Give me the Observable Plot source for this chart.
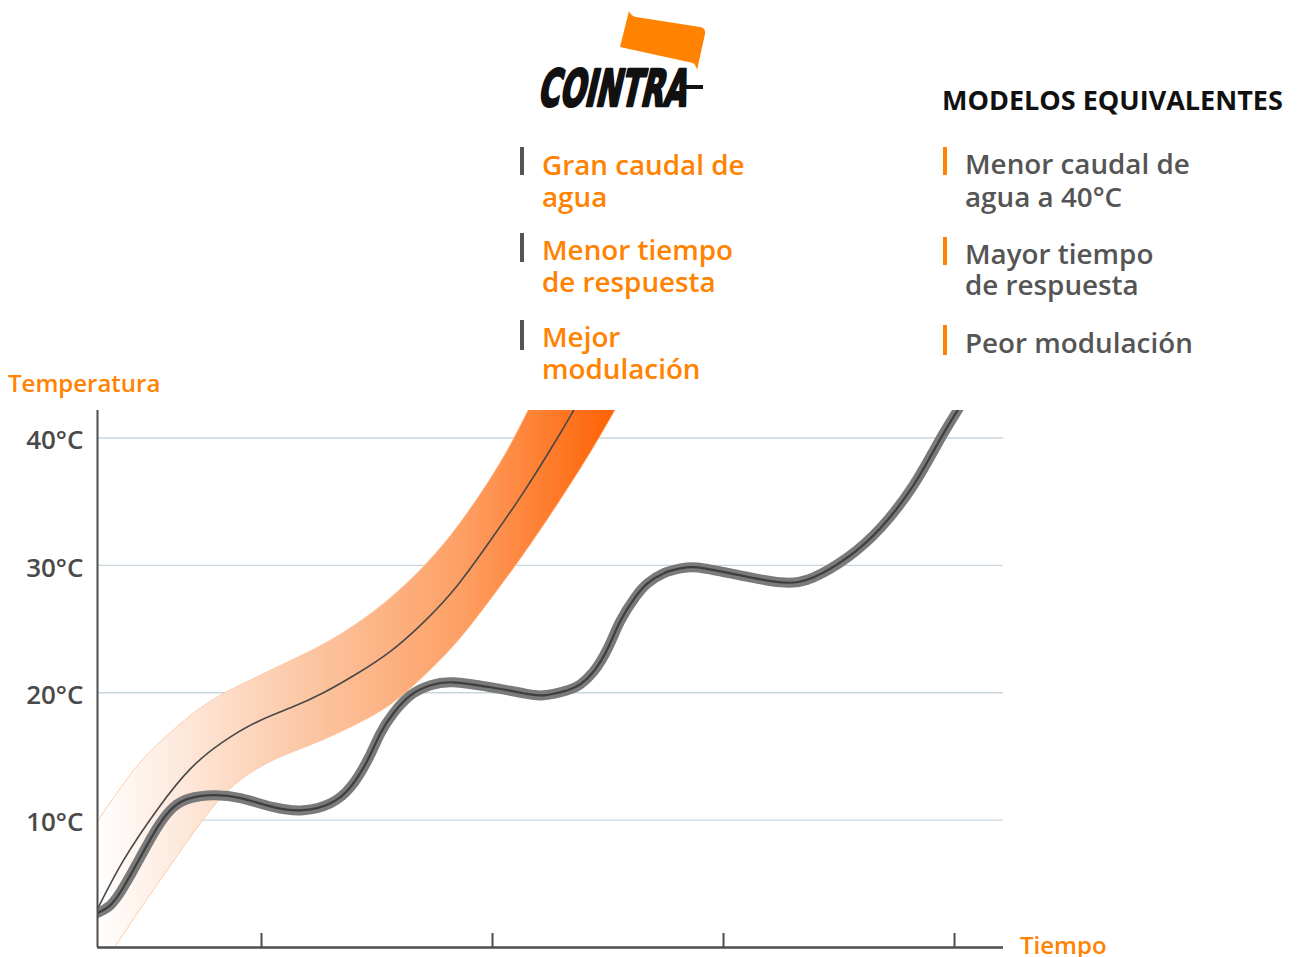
<!DOCTYPE html>
<html>
<head>
<meta charset="utf-8">
<script src="https://cdn.jsdelivr.net/npm/d3@7"></script>
<script src="https://cdn.jsdelivr.net/npm/@observablehq/plot@0.6"></script>
<style>
  html, body { margin: 0; padding: 0; background: #fff; overflow: hidden; }
  #wrap { position: relative; width: 1298px; height: 957px; font-family: "Open Sans", sans-serif; }
  #chart { position: absolute; left: 0; top: 0; }
  .abs { position: absolute; white-space: nowrap; }
  .item { font-size: 27.8px; font-weight: 600; line-height: 32px; height: 32px; }
  .bar { position: absolute; width: 4px; }
  .lbl { font-size: 24px; font-weight: 600; line-height: 24px; color: #ff8200; }
</style>
</head>
<body>
<div id="wrap">
  <div id="chart"></div>

  <svg class="abs" style="left:500px;top:0" width="230" height="125" viewBox="0 0 230 125">
    <path d="M129,11 L120,47 L193,63 Q196,65 197,70 L205,34 Q206,28 200,27 L136,17 Q131,16 129,11 Z" fill="#ff8200"/>
    <g transform="translate(37,106) skewX(-13) scale(0.94,1.45)">
      <text x="0" y="0" font-family="DejaVu Sans Condensed" font-weight="bold" font-size="35" fill="#111" stroke="#111" stroke-width="1.8" stroke-linejoin="round">COINTRA</text>
    </g>
    <rect x="180" y="85" width="23" height="4" fill="#111"/>
  </svg>

  <div class="abs" style="left:942px;top:84px;font-size:27px;font-weight:700;line-height:32px;color:#111">MODELOS EQUIVALENTES</div>

  <div class="bar" style="left:520px;top:147px;height:28px;background:#555"></div>
  <div class="abs item" style="left:542px;top:148px;color:#ff8200">Gran caudal de</div>
  <div class="abs item" style="left:542px;top:180px;color:#ff8200">agua</div>
  <div class="bar" style="left:520px;top:233px;height:29px;background:#555"></div>
  <div class="abs item" style="left:542px;top:233px;color:#ff8200">Menor tiempo</div>
  <div class="abs item" style="left:542px;top:265px;color:#ff8200">de respuesta</div>
  <div class="bar" style="left:520px;top:320px;height:30px;background:#555"></div>
  <div class="abs item" style="left:542px;top:320px;color:#ff8200">Mejor</div>
  <div class="abs item" style="left:542px;top:352px;color:#ff8200">modulación</div>

  <div class="bar" style="left:943px;top:147px;height:28px;background:#ff8200"></div>
  <div class="abs item" style="left:965px;top:147px;color:#555">Menor caudal de</div>
  <div class="abs item" style="left:965px;top:180px;color:#555">agua a 40°C</div>
  <div class="bar" style="left:943px;top:237px;height:28px;background:#ff8200"></div>
  <div class="abs item" style="left:965px;top:237px;color:#555">Mayor tiempo</div>
  <div class="abs item" style="left:965px;top:268px;color:#555">de respuesta</div>
  <div class="bar" style="left:943px;top:325px;height:30px;background:#ff8200"></div>
  <div class="abs item" style="left:965px;top:326px;color:#555">Peor modulación</div>

  <div class="abs lbl" style="left:8px;top:371px">Temperatura</div>
  <div class="abs lbl" style="left:1020px;top:933px">Tiempo</div>
</div>
<script>
// ---- data (time units, °C) ----
const yTicks = [10, 20, 30, 40];
const xTicks = [1, 2, 3, 4];

// Equivalent models: wavy grey curve
const grayT = [0.290, 0.346, 0.403, 0.476, 0.550, 0.619, 0.693, 0.792, 0.909, 1.052, 1.182, 1.299, 1.385, 1.459, 1.515, 1.571, 1.645, 1.732, 1.831, 1.991, 2.134, 2.221, 2.325, 2.381, 2.437, 2.498, 2.554, 2.619, 2.671, 2.740, 2.814, 2.887, 3.030, 3.247, 3.390, 3.537, 3.680, 3.823, 3.931, 4.013, 4.091];
const grayV = [2.71, 3.33, 4.75, 7.10, 9.45, 11.02, 11.73, 11.96, 11.73, 11.02, 10.78, 11.33, 12.59, 14.71, 16.82, 18.39, 19.80, 20.59, 20.82, 20.43, 19.96, 19.80, 20.20, 20.67, 21.65, 23.45, 25.65, 27.53, 28.59, 29.37, 29.76, 29.84, 29.37, 28.67, 29.06, 30.63, 32.94, 36.31, 39.69, 42.16, 44.51];

// Cointra: centre line of the band
const centerT = [0.290, 0.403, 0.550, 0.693, 0.835, 0.983, 1.126, 1.268, 1.416, 1.558, 1.701, 1.848, 1.991, 2.134, 2.281, 2.351, 2.424];
const centerV = [3.02, 6.86, 10.86, 14.04, 16.16, 17.73, 18.82, 20.0, 21.53, 23.25, 25.53, 28.43, 31.96, 35.73, 40.0, 42.16, 44.4];

// Cointra band: upper and lower edges
const upperT = [0.290, 0.411, 0.476, 0.550, 0.693, 0.835, 0.983, 1.126, 1.268, 1.416, 1.558, 1.701, 1.848, 1.991, 2.078, 2.156, 2.229, 2.303];
const upperV = [9.84, 12.98, 14.47, 15.88, 18.16, 19.88, 21.22, 22.47, 23.76, 25.42, 27.39, 29.84, 32.98, 36.75, 39.41, 42.16, 44.90, 47.80];
const lowerT = [0.290, 0.403, 0.550, 0.693, 0.835, 0.983, 1.126, 1.268, 1.416, 1.558, 1.701, 1.848, 1.991, 2.134, 2.281, 2.424, 2.532, 2.619];
const lowerV = [-2.16, 0.98, 4.90, 8.59, 11.88, 14.0, 15.25, 16.27, 17.53, 19.02, 21.22, 23.96, 27.25, 30.78, 34.71, 38.78, 42.16, 45.06];

const grayRows = grayT.map((t, i) => ({t, v: grayV[i]}));
const centerRows = centerT.map((t, i) => ({t, v: centerV[i]}));
const bandRows = lowerT.map((t, i) => ({x1: t, y1: lowerV[i], x2: upperT[i], y2: upperV[i]}));

const plot = Plot.plot({
  width: 1298,
  height: 957,
  marginLeft: 97,
  marginRight: 295,
  marginTop: 410,
  marginBottom: 10,
  x: {domain: [0.29, 4.212], axis: null},
  y: {domain: [0, 42.16]},
  style: {fontFamily: "'Open Sans', sans-serif", background: "transparent"},
  marks: [
    Plot.gridY(yTicks, {stroke: "#c9d6de", strokeOpacity: 1, strokeWidth: 1.3}),
    Plot.area(bandRows, {x1: "x1", y1: "y1", x2: "x2", y2: "y2", curve: "natural", fill: "url(#bandGrad)", stroke: "#fbc29b", strokeWidth: 0.8, clip: true}),
    Plot.line(centerRows, {x: "t", y: "v", curve: "natural", stroke: "#484848", strokeWidth: 1.6, clip: true}),
    Plot.line(grayRows, {x: "t", y: "v", curve: "natural", stroke: "#7a7a7a", strokeWidth: 10, clip: true}),
    Plot.line(grayRows, {x: "t", y: "v", curve: "natural", stroke: "#3e3e3e", strokeWidth: 2.2, clip: true}),
    Plot.axisY(yTicks, {tickSize: 0, tickPadding: 14, tickFormat: d => `${d}°C`, fontSize: 26, fontWeight: 600, fill: "#4a4a4a", dy: 3, label: null}),
    Plot.ruleX([0.29], {stroke: "#4d4d4d", strokeWidth: 2}),
    Plot.ruleY([0], {stroke: "#4d4d4d", strokeWidth: 2.5}),
    Plot.ruleX(xTicks, {y1: 0, y2: 1.1, stroke: "#4d4d4d", strokeWidth: 2})
  ]
});

const xs = plot.scale("x");
const ns = "http://www.w3.org/2000/svg";
const defs = document.createElementNS(ns, "defs");
defs.innerHTML = `<linearGradient id="bandGrad" gradientUnits="userSpaceOnUse" x1="${xs.apply(0.29)}" y1="0" x2="${xs.apply(2.55)}" y2="0">
  <stop offset="0" stop-color="#ffffff"/>
  <stop offset="0.2" stop-color="#fde3d3"/>
  <stop offset="0.39" stop-color="#fcc8a6"/>
  <stop offset="0.7" stop-color="#fd9f64"/>
  <stop offset="1" stop-color="#ff6000"/>
</linearGradient>`;
plot.insertBefore(defs, plot.firstChild);
document.getElementById("chart").appendChild(plot);
</script>
</body>
</html>
